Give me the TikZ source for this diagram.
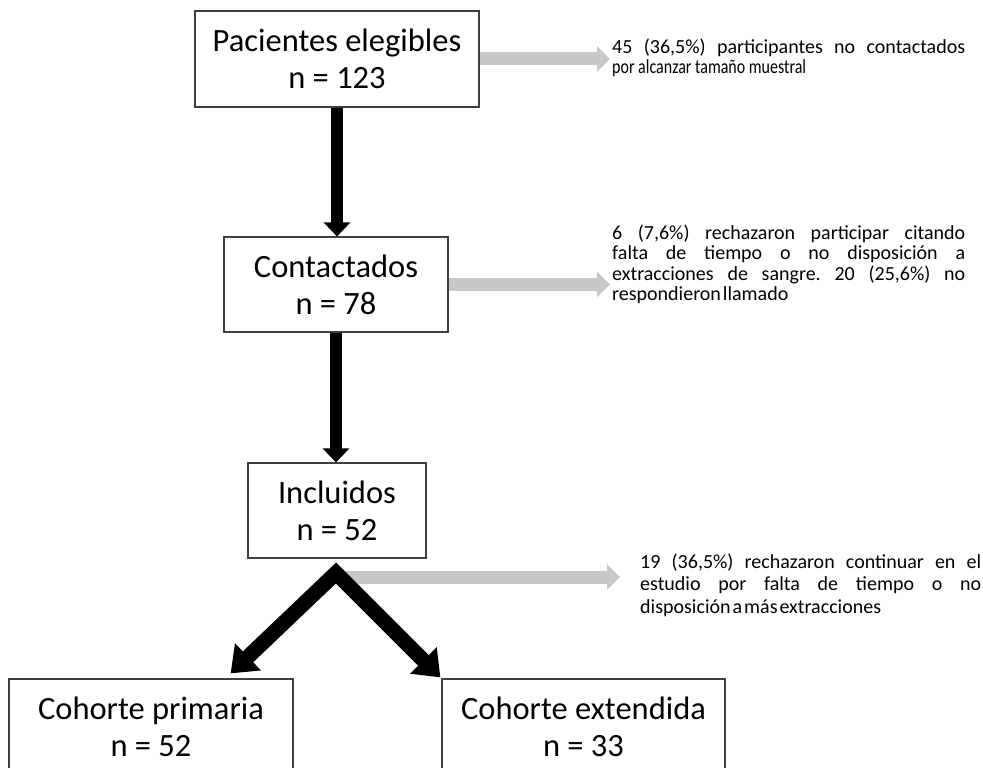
\documentclass[tikz,border=0pt]{standalone}
\usepackage{fontspec}
\usepackage{graphicx}
\setmainfont{Carlito}
\usetikzlibrary{arrows.meta,calc}
\definecolor{grayarrow}{HTML}{C8C8C8}
\definecolor{boxline}{HTML}{404040}
\frenchspacing
\begin{document}
\begin{tikzpicture}[x=1pt,y=-1pt,
  box/.style={draw=boxline, line width=1.2pt, fill=white, inner sep=0pt, align=center,
    font=\fontsize{32.5}{37}\selectfont, text=black},
  note/.style={anchor=north west, inner sep=0pt, align=justify, text=black,
    font=\fontsize{20}{20.5}\selectfont},
  blk/.style={line width=12pt, -{Triangle[width=26pt,length=14pt]}},
  diag/.style={line width=15pt, line join=miter,
    {Triangle[width=36pt,length=24pt]}-{Triangle[width=36pt,length=24pt]}},
  gry/.style={draw=grayarrow, line width=13pt, -{Triangle[width=25pt,length=13pt]}},
]
\useasboundingbox (0,0) rectangle (983,768);

% boxes
\node[box, minimum width=284pt, minimum height=96pt] (b1) at (337,59) {Pacientes elegibles\\n = 123};
\node[box, minimum width=224pt, minimum height=95pt] (b2) at (336,284.5) {Contactados\\n = 78};
\node[box, minimum width=178pt, minimum height=95pt] (b3) at (337,510.5) {Incluidos\\n = 52};
\node[box, minimum width=284pt, minimum height=95pt] (b4) at (151,726.5) {Cohorte primaria\\n = 52};
\node[box, minimum width=283pt, minimum height=95pt] (b5) at (583.5,726.5) {Cohorte extendida\\n = 33};

% notes
\node[note, text width=353pt] (t1) at (612,38.5)
  {45 (36,5\%) participantes no contactados\linebreak \scalebox{0.8}[1]{por alcanzar tamaño muestral}};
\node[note, text width=353pt] (t2) at (612,224.5)
  {6 (7,6\%) rechazaron participar citando\linebreak falta de tiempo o no disposición a\linebreak extracciones de sangre. 20 (25,6\%) no\linebreak {\spaceskip=2pt\relax respondieron llamado}};
\node[note, text width=341pt, font=\fontsize{20}{22.5}\selectfont] (t3) at (640,553.5)
  {19 (36,5\%) rechazaron continuar en el\linebreak estudio por falta de tiempo o no\linebreak {\spaceskip=2pt\relax disposición a más extracciones}};

% gray arrows
\draw[gry] (b1.east) -- ($(b1.east -| t1.west)+(-2,0)$);
\draw[gry] (b2.east) -- ($(b2.east -| t2.west)+(-2,0)$);
\coordinate (gs) at (340,577);
\draw[gry] (gs) -- ($(gs -| t3.west)+(-20,0)$);

% black arrows
\draw[blk] (b1.south) -- (b1.south |- b2.north);
\draw[blk] (b2.south) -- (b2.south |- b3.north);
\coordinate (apex) at (336,573);
\coordinate (l4) at ($(b4.north east)+(-63,-5)$);
\coordinate (r5) at ($(b5.north west)+(-1,-1)$);
\draw[diag] (l4) -- (apex) -- (r5);
\end{tikzpicture}
\end{document}
